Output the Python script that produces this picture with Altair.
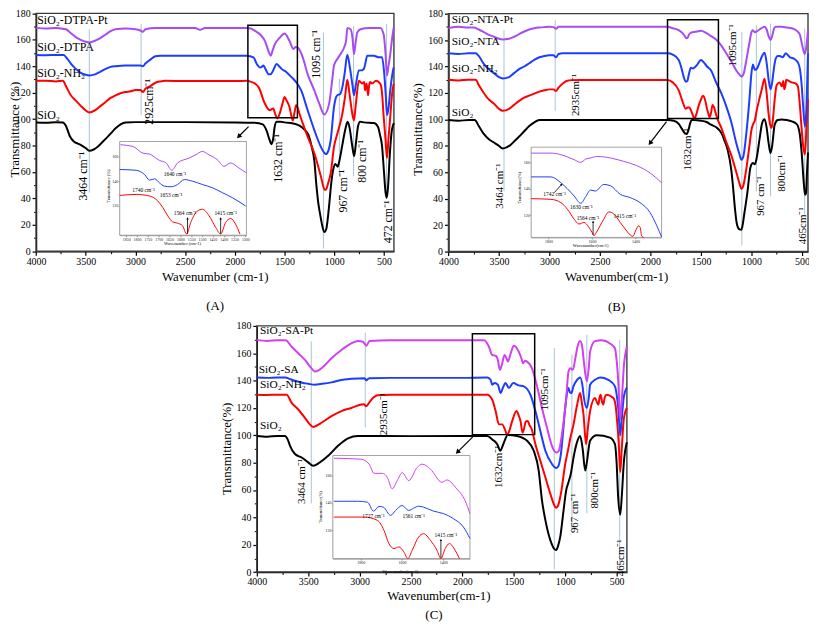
import altair as alt
import pandas as pd

FONT = "Liberation Serif, Times New Roman, serif"
W, H = 808, 616
SX, SY = 4, 3


def vx(p):
    return round(p - SX, 1)


def vy(p):
    return round(p - SY, 1)


# ---------------- colours ----------------
BLACK, RED, BLUE, VIOLET, MAGENTA = "#000000", "#ff0000", "#1e3cff", "#a64cf2", "#d23ff0"
GUIDE = "#aac4d6"

# ---------------- panel A spectra (wavenumber, transmittance) ----------------
A_SIO2 = [(4000,97.5),(3900,97.3),(3800,97.6),(3730,97.5),(3700,95),(3660,87),(3620,83),(3580,81.5),(3540,80),(3500,78),(3464,76),(3420,77),(3380,79),(3340,82),(3300,85),(3250,89),(3200,93),(3150,96),(3100,97.5),(3000,97.7),(2500,97.7),(2000,97.5),(1800,97.2),(1720,96),(1680,91),(1650,84),(1632,81),(1615,85),(1600,94),(1580,98),(1540,98),(1500,97.5),(1400,96.5),(1350,95),(1300,92),(1260,88),(1230,80),(1200,68),(1180,50),(1160,36),(1140,27),(1120,19),(1100,14.5),(1080,17),(1065,25),(1050,36),(1030,52),(1010,62),(990,66),(967,64),(950,68),(920,80),(890,92),(866,98),(845,93),(820,80),(800,72),(785,80),(760,95),(740,98),(700,97.5),(600,97),(560,94),(540,88),(520,80),(500,60),(485,45),(472,40.5),(460,48),(440,75),(420,92),(400,97)]
A_NH2 = [(4000,129),(3900,129),(3800,128.5),(3730,129),(3700,125),(3650,118),(3600,114),(3550,110),(3500,106.5),(3464,105),(3400,107),(3350,110),(3300,113),(3250,116),(3200,118),(3150,119.5),(3100,120.5),(3050,121),(3000,122),(2950,122),(2925,120.5),(2900,123),(2850,125),(2800,127.5),(2750,128.5),(2700,129),(2500,128.8),(2000,128.8),(1880,129),(1850,128.5),(1800,127),(1760,124),(1700,112),(1650,106.7),(1615,108),(1590,103),(1572,100.5),(1550,104),(1520,112),(1500,116.7),(1480,114),(1450,109),(1430,102),(1417,99),(1400,105),(1384,110.5),(1365,108),(1350,104),(1317,96.7),(1268,86.7),(1200,74),(1135,56.7),(1100,47),(1085,46.5),(1060,52),(1036,59),(1003,79),(969,89),(940,97),(919,104),(890,118),(869,129.7),(845,118),(819,104),(802,99),(785,110),(752,129),(720,127),(700,128),(690,121.7),(675,127),(660,118),(650,125),(640,128),(620,127),(580,129),(537,126.7),(520,120),(503,101.7),(485,85),(470,70.5),(455,85),(437,101.7),(420,118),(403,126.7)]
A_DTPA = [(4000,148.5),(3900,148.3),(3800,148.5),(3720,148.5),(3700,147),(3650,142),(3600,138),(3550,135),(3500,133.5),(3464,133),(3400,134),(3350,136),(3300,138),(3250,139.5),(3200,140),(3100,140.5),(3000,140.5),(2950,140.5),(2925,140),(2900,142),(2850,145),(2800,147.5),(2750,148),(2500,148),(2000,148),(1880,148),(1813,146.7),(1780,141.7),(1745,139),(1730,139.5),(1713,140.5),(1697,138.7),(1680,136),(1663,134),(1640,134),(1620,136),(1580,141.7),(1555,140),(1530,138),(1480,135.5),(1430,131.7),(1384,128),(1333,121.7),(1268,106.7),(1201,91.7),(1135,79),(1100,74.5),(1085,73.5),(1060,76),(1036,84),(1003,109),(985,116),(969,118),(940,119),(919,124),(895,135),(869,148.7),(845,140),(819,126.7),(802,118),(785,125),(752,136.7),(720,137),(702,138),(685,143),(669,148),(603,148),(553,146.7),(520,146.7),(497,134),(480,115),(470,103),(455,108),(437,121.7),(420,132),(403,139)]
A_PT = [(4000,169),(3900,168.5),(3800,169),(3750,168.5),(3700,168),(3650,165),(3600,162),(3550,160),(3500,158.5),(3464,158),(3400,159.5),(3350,161.5),(3300,164),(3250,166.5),(3200,168),(3100,168.5),(3000,168),(2950,167),(2925,166),(2900,168),(2800,169),(2400,169),(2350,167.5),(2300,169),(2000,169),(1880,169),(1840,168.5),(1797,166.7),(1746,164),(1697,159),(1663,151.7),(1640,148),(1620,152),(1597,156.7),(1547,161.7),(1500,164.7),(1450,159),(1410,153),(1390,154.5),(1367,154),(1317,146.7),(1268,134),(1201,121.7),(1151,111.7),(1101,103.5),(1052,111.7),(1020,130),(1003,140.5),(969,145.5),(930,150),(902,154),(880,160),(869,169),(836,168),(815,160),(802,149),(785,158),(769,165.5),(736,168),(650,169),(560,169),(537,169),(503,164),(485,150),(470,133),(455,140),(437,149),(420,160),(403,169)]

# ---------------- panel B spectra ----------------
B_SIO2 = [(4000,99.5),(3900,99),(3800,99.5),(3740,99.5),(3700,95),(3650,89),(3600,85),(3550,82.5),(3500,80),(3464,78),(3420,79),(3380,81),(3340,84),(3300,87),(3250,91),(3200,95),(3150,97.8),(3100,99.5),(3050,99.6),(3000,99.6),(2500,99.5),(2000,99.6),(1830,99.6),(1770,99),(1720,96.6),(1690,93),(1665,90),(1640,89),(1620,93),(1607,97),(1590,99.5),(1575,99.6),(1500,99),(1445,98),(1400,96),(1348,94),(1300,90),(1267,84),(1235,76.7),(1200,62),(1186,52),(1160,30),(1147,22),(1122,17),(1100,16.5),(1090,19),(1070,29),(1041,44.3),(1009,64),(985,67),(967,66),(950,70),(920,85),(895,97),(870,100.2),(850,94),(830,82),(811,74.5),(795,80),(770,96),(740,99.5),(700,100),(650,99.5),(600,98.5),(560,97),(540,95),(520,88),(500,72),(485,55),(470,43),(460,44),(450,60),(440,75)]
B_NH2 = [(4000,130),(3900,129.5),(3800,130),(3730,130),(3700,126),(3650,120),(3600,115),(3550,112),(3500,108),(3464,106.5),(3400,108),(3350,111),(3300,114),(3250,116.5),(3200,118),(3150,119.5),(3100,121),(3050,122),(3000,122.7),(2960,122.7),(2935,121.5),(2910,124),(2870,127),(2830,129),(2780,129.7),(2700,129.8),(2500,129.8),(2000,129.8),(1830,129.8),(1780,128),(1720,122),(1680,113),(1650,108),(1632,109),(1615,109),(1600,107),(1580,103),(1564,100.5),(1545,104),(1520,111),(1500,115),(1480,117.8),(1460,115),(1440,108),(1425,104),(1415,101.6),(1400,105),(1385,110.8),(1370,109),(1355,105),(1340,101),(1300,94),(1250,83),(1200,73),(1150,60),(1120,52),(1100,47.5),(1080,50),(1050,63),(1020,80),(1000,92),(980,97),(967,99),(950,106),(920,116),(900,122),(870,130.7),(850,120),(830,104),(815,96),(800,93.6),(785,102),(770,115),(750,126),(720,128),(700,125),(685,129),(675,122.7),(665,125),(655,130),(640,129.5),(600,128),(560,127),(540,125),(520,110),(500,90),(485,78),(470,73.5),(455,95),(440,115)]
B_NTA = [(4000,150),(3900,149.5),(3800,150),(3730,150),(3700,148),(3650,142),(3600,138),(3550,135),(3500,132),(3464,131),(3400,132),(3350,135),(3300,138),(3250,140),(3200,142.5),(3150,145),(3100,147),(3050,148),(3000,148.5),(2960,148.5),(2935,147),(2910,149.5),(2870,150),(2800,150),(2500,150),(2000,150),(1830,150),(1780,149),(1720,145),(1690,138),(1670,132),(1650,128.5),(1635,129),(1620,134),(1600,139),(1580,138.5),(1560,139.5),(1540,141),(1500,145),(1470,143),(1440,140),(1400,137),(1350,128),(1300,120),(1250,110),(1200,98),(1150,82),(1120,74),(1100,69.5),(1080,72),(1050,90),(1020,115),(1000,135),(985,141.5),(967,137.5),(950,138),(920,143),(900,147),(870,150.5),(850,143),(830,130),(811,122.7),(795,128),(775,140),(760,146),(740,148),(720,148),(690,147),(660,150),(620,147),(580,146),(540,143),(520,138),(505,128),(490,112),(470,94.5),(455,110),(440,150)]
B_PT = [(4000,169),(3900,170),(3800,169.5),(3750,169.5),(3700,168),(3650,166),(3600,164),(3550,162.5),(3500,161),(3464,160.5),(3400,161),(3350,162.5),(3300,164.5),(3250,166.5),(3200,168),(3150,169),(3100,169.5),(3050,169.8),(3000,170),(2960,169.8),(2935,168.5),(2910,170),(2800,170),(2500,170),(2000,170),(1830,170),(1780,169),(1720,167.5),(1680,165),(1660,163),(1645,161.5),(1630,162),(1620,164),(1600,165.5),(1580,166),(1540,166.5),(1500,167),(1450,165.5),(1400,163),(1350,160.5),(1300,156),(1250,150),(1200,144),(1150,137),(1120,134),(1100,132.5),(1080,134),(1050,145),(1020,158),(1000,166),(990,167.5),(967,166),(940,167),(900,169),(870,170),(850,168),(830,163),(811,160),(795,163),(775,169),(760,170),(700,170),(650,169.5),(600,169),(550,167),(520,164),(500,157),(485,152),(470,149.5),(455,156),(440,168)]

# ---------------- panel C spectra ----------------
C_SIO2 = [(4000,99.5),(3900,99),(3800,99.5),(3726,99.5),(3700,97),(3677,92.3),(3629,86.3),(3564,83.8),(3500,80.2),(3452,77.8),(3387,80.2),(3306,85),(3210,92.3),(3113,97.8),(3016,99.5),(2500,99.4),(2000,99.5),(1758,99.5),(1710,97),(1661,93.5),(1632,88.7),(1610,92),(1590,96),(1558,100.3),(1468,99.5),(1371,96),(1306,88.7),(1258,74.2),(1226,52.4),(1193,38),(1145,23.4),(1100,16.5),(1087,16.2),(1070,19),(1048,25.9),(1016,45.2),(990,60),(968,65.7),(945,72),(919,83.8),(885,95),(855,99.5),(830,90),(806,74.2),(790,80),(758,96),(693,100),(564,98.3),(516,93.5),(500,80),(485,55),(465,42),(450,55),(430,80),(400,95)]
C_NH2 = [(4000,129.7),(3900,129.5),(3800,129.7),(3710,129.7),(3661,123.7),(3597,118.9),(3532,112.8),(3490,108.5),(3452,106),(3420,107),(3371,109.2),(3274,114),(3177,117.7),(3081,120),(2984,122.5),(2960,122.7),(2935,121.3),(2910,123.5),(2887,126),(2850,128.5),(2822,129.3),(2700,129.7),(2500,129.7),(2000,129.7),(1758,129.7),(1710,126),(1677,117.7),(1645,108),(1613,108),(1581,103.2),(1564,100.3),(1545,103),(1516,110.4),(1474,117.7),(1450,114),(1435,110.4),(1415,102),(1400,105),(1385,110),(1365,110.4),(1345,107),(1332,105.6),(1290,93.5),(1242,81.4),(1193,69.3),(1145,57.3),(1100,48),(1087,47.1),(1070,48.5),(1042,57.3),(1000,79),(968,91),(950,98),(919,108),(885,122),(855,131),(835,122),(822,115.2),(797,93.5),(780,105),(758,117.7),(710,127.3),(690,124),(677,122.5),(665,128),(655,129.7),(640,124),(629,122.5),(615,128),(597,129.7),(532,127.3),(510,122),(495,110),(480,95),(465,73),(450,90),(430,112),(400,120)]
C_SA = [(4000,142.3),(3900,142),(3800,142.3),(3720,142.3),(3690,141.5),(3629,139.9),(3560,138.5),(3500,137.7),(3436,137),(3380,137.5),(3274,138.7),(3180,140.5),(3081,141.3),(2952,141.8),(2935,140.1),(2915,141.5),(2903,141.8),(2700,142),(2000,142),(1758,142.3),(1726,140.6),(1710,137),(1687,138.2),(1655,137),(1629,131),(1605,135),(1581,138.2),(1548,134.6),(1506,138.2),(1452,136.5),(1403,135.8),(1339,129.7),(1290,117.7),(1242,103.2),(1193,88.7),(1129,79),(1100,76.5),(1087,76.1),(1070,77),(1042,86.3),(1000,120.1),(980,132),(968,134.6),(955,131.5),(940,131),(919,136),(890,140),(855,142.3),(830,135),(822,129.7),(790,120),(770,128),(758,137),(710,140.6),(661,142.3),(581,140.6),(516,135.8),(500,130),(484,120),(465,100),(450,112),(430,128),(400,135)]
C_PT = [(4000,169.6),(3900,169),(3800,169.5),(3720,169.6),(3661,164.8),(3597,160),(3532,155.1),(3468,149),(3436,146.7),(3400,147.5),(3371,149),(3274,156.3),(3177,162.4),(3081,167.2),(3016,168.9),(2968,168.4),(2935,165.5),(2903,168.9),(2700,169.5),(2000,169.5),(1790,169.5),(1742,164.8),(1710,158.7),(1677,158.2),(1655,155),(1636,147.9),(1615,152),(1590,158.7),(1570,156),(1558,153.9),(1530,160),(1500,165.5),(1452,161.2),(1425,156),(1410,152.7),(1390,154.5),(1371,153.9),(1323,149),(1274,135.8),(1226,120),(1177,105.6),(1129,92.3),(1100,88),(1081,87.5),(1060,89),(1032,100.7),(990,127.3),(968,146.7),(950,149),(926,147.9),(900,157),(880,165),(855,168.9),(835,165),(822,156.3),(790,139.4),(770,150),(758,161.2),(710,168.9),(645,169.6),(564,167.2),(516,163.6),(500,155),(484,139.4),(465,112),(450,125),(430,150),(400,165)]

# ---------------- inset spectra ----------------
AI_PT = [(1877,169.4),(1819,168),(1773,162.6),(1743,161.9),(1697,156.8),(1666,154.7),(1639,148.8),(1613,154.7),(1559,158.7),(1529,161.3),(1498,164),(1468,161.3),(1429,157.3),(1399,152),(1368,154.7),(1330,150.7),(1295,146.7)]
AI_DTPA = [(1880,149.4),(1804,148.8),(1765,145.3),(1742,140.8),(1719,141.9),(1697,138.7),(1674,136),(1643,135.5),(1613,137.3),(1582,141.3),(1544,140),(1498,137.3),(1452,134.7),(1406,130.7),(1360,126.7),(1299,120)]
AI_NH2 = [(1880,128.5),(1804,129.3),(1742,128),(1704,124),(1681,118.7),(1658,112),(1636,107.2),(1613,106.1),(1590,104),(1571,97.4),(1552,106.7),(1521,116),(1498,117.3),(1467,112),(1437,102.7),(1414,97.4),(1391,106.7),(1368,109.9),(1345,105.3),(1325,97.4)]
BI_PT = [(1880,167),(1789,167),(1743,165.8),(1682,162),(1652,160),(1629,162.5),(1607,163.3),(1576,164.5),(1515,163.3),(1455,160.8),(1394,157.5),(1333,152),(1280,144.5)]
BI_NTA = [(1880,149),(1789,149),(1743,144.5),(1713,140),(1682,134.5),(1652,129),(1629,134),(1607,139),(1584,138.3),(1546,143.3),(1515,142.3),(1470,135.8),(1424,133.3),(1379,129.5),(1333,122),(1302,112),(1280,103.5)]
BI_NH2 = [(1880,132.5),(1789,132),(1743,129.5),(1713,124.5),(1682,117),(1660,113.3),(1637,114.5),(1614,110.8),(1600,107),(1591,104.5),(1580,107),(1546,117),(1523,122.5),(1500,121),(1470,114.5),(1440,108),(1424,105),(1412,104),(1400,108),(1386,112),(1379,111),(1371,104),(1362,100)]
CI_PT = [(1930,172.5),(1799,171.8),(1759,168.2),(1735,161.5),(1695,161.5),(1671,158.6),(1647,150.2),(1623,156.2),(1598,162),(1567,156.2),(1526,165.8),(1502,168.2),(1462,164.6),(1406,155),(1382,156.7),(1334,150.2),(1294,141.8),(1270,132.2)]
CI_SA = [(1930,141.2),(1815,141.2),(1767,140.5),(1738,134),(1711,137.4),(1690,136.9),(1655,130.9),(1631,134.5),(1599,138.1),(1567,134.5),(1543,136.2),(1519,137.6),(1495,136.9),(1447,134),(1398,132.2),(1350,128.5),(1302,122.5),(1270,114.1)]
CI_NH2 = [(1930,129.7),(1783,129.7),(1719,127.3),(1687,120),(1663,110.4),(1639,106.8),(1615,108),(1591,104.4),(1571,99.5),(1550,105.6),(1519,115.2),(1495,117.6),(1462,112.8),(1430,105.6),(1411,99.5),(1390,106.8),(1370,110.4),(1342,105.6),(1321,99.5)]

# ---------------- annotations (data coordinates) ----------------
A_VLINES = [(3464,168,44.3),(2943,171.8,103),(1109,165.5,2),(949,130.5,56.8),(806,170.5,56.8),(474,172,39.5)]
B_VLINES = [(3450,167.5,45.6),(2943,175,106.5),(1095,166.3,4.5),(951,171.3,45.6),(811,172.5,41.8),(473,168.8,28.1)]
C_VLINES = [(3470,168.6,50.2),(2945,175,105.8),(1106,163.8,1.9),(935,159,30.9),(790,173.5,43),(470,170,3)]

A_PEAKS = [(3524,56.8,"3464 cm⁻¹"),(2859,113,"2925cm⁻¹"),(1570,70.3,"1632 cm⁻¹"),(1182,149,"1095 cm⁻¹"),(915,45.5,"967 cm⁻¹"),(716,68,"800 cm⁻¹"),(461,22.3,"472 cm⁻¹")]
B_PEAKS = [(3493,49.5,"3464 cm⁻¹"),(2740,118.5,"2935cm⁻¹"),(1628,77.3,"1632cm⁻¹"),(1186,156,"1095cm⁻¹"),(909,42,"967 cm⁻¹"),(696,59.3,"800cm⁻¹"),(485,19.5,"465cm⁻¹")]
C_PEAKS = [(3565,66.2,"3464 cm⁻¹"),(2758,115.5,"2935cm⁻¹"),(1645,77,"1632cm⁻¹"),(1194,133.6,"1095cm⁻¹"),(903,43,"967 cm⁻¹"),(710,59.9,"800cm⁻¹"),(458,10.4,"465cm⁻¹")]

A_NAMES = [(3988,174.8,"SiO₂-DTPA-Pt"),(3988,154.8,"SiO₂-DTPA"),(3988,134.8,"SiO₂-NH₂"),(3988,103,"SiO₂")]
B_NAMES = [(3967,175,"SiO₂-NTA-Pt"),(3967,158.8,"SiO₂-NTA"),(3967,138.2,"SiO₂-NH₂"),(3967,105,"SiO₂")]
C_NAMES = [(3970,176.4,"SiO₂-SA-Pt"),(3981,148.1,"SiO₂-SA"),(3970,136.7,"SiO₂-NH₂"),(3970,107,"SiO₂")]

A_BOX = [(1869,1371,101,171)]
B_BOX = [(1831,1327,100.7,175.3)]
C_BOX = [(1903,1297,100.5,174.2)]
A_ARROW = [(1862,94.3,1962,86.8,225)]
B_ARROW = [(1841,98.3,2004,82,217)]
C_ARROW = [(1887,99.8,2048,87.7,225)]

A_TITLES = [(2198,-19.7,"Wavenumber (cm-1)"),(2198,-41.5,"(A)")]
B_TITLES = [(2335,-19.5,"Wavenumber(cm-1)"),(2335,-42,"(B)")]
C_TITLES = [(2229,-17.4,"Wavenumber(cm-1)"),(2277,-31.7,"(C)")]
A_YTITLE = [(4212,92,"Transmittance (%)")]
B_YTITLE = [(4297,92.3,"Transmittance(%)")]
C_YTITLE = [(4290,90.1,"Transmittance(%)")]

AI_TEXT = [(1625,145.4,"1640 cm⁻¹"),(1770,132.8,"1740 cm⁻¹"),(1643,128.6,"1653 cm⁻¹"),(1579,114.6,"1564 cm⁻¹"),(1391,114.6,"1415 cm⁻¹")]
BI_TEXT = [(1772,135.8,"1742 cm⁻¹"),(1649,126.3,"1630 cm⁻¹"),(1619,117.7,"1564 cm⁻¹"),(1449,119.5,"1415 cm⁻¹")]
CI_TEXT = [(1738,130.8,"1727 cm⁻¹"),(1543,130.8,"1561 cm⁻¹"),(1387,116.4,"1415 cm⁻¹")]
AI_ARROWS = [(1567,97.5,1567,110,0),(1414,97.5,1414,110,0)]
BI_ARROWS = [(1595,105,1595,115,0),(1774,137,1740,143.3,41)]
CI_ARROWS = [(1411,100,1411,113,0)]
AI_TITLES = [(1590,89.6,"Wavenumber (cm-1)")]
BI_TITLES = [(1606,97,"Wavenumber(cm-1)")]
CI_TITLES = [(1607,89.4,"Wavenumber(cm-1)")]
AI_YTITLE = [(1930,136,"Transmittance (%)")]
BI_YTITLE = [(1929,140.8,"Transmittance(%)")]
CI_YTITLE = [(1991,136.9,"Transmittance(%)")]

X_MAJOR = [4000, 3500, 3000, 2500, 2000, 1500, 1000, 500]
X_MINOR = [3750, 3250, 2750, 2250, 1750, 1250, 750]
Y_MAJOR = [0, 20, 40, 60, 80, 100, 120, 140, 160, 180]
Y_MINOR = [10, 30, 50, 70, 90, 110, 130, 150, 170]
INSET_Y = [120, 140, 160]
AI_XTICKS = [1850, 1800, 1750, 1700, 1650, 1600, 1550, 1500, 1450, 1400, 1350, 1300]
BI_XTICKS = [1800, 1600, 1400]
CI_XTICKS = [1800, 1600, 1400]

# ---------------- layout: plot areas in page pixels ----------------
GEOM = {
    "A": {"xd": [4000, 400], "yd": [0, 180], "xr": [vx(32.3), vx(393.3)], "yr": [vy(245.7), vy(5.7)]},
    "B": {"xd": [4000, 440], "yd": [0, 180], "xr": [vx(448.3), vx(811)], "yr": [vy(246), vy(6)]},
    "C": {"xd": [4000, 400], "yd": [0, 180], "xr": [vx(255), vx(628.3)], "yr": [vy(569.3), vy(321)]},
    "Ai": {"xd": [1880, 1295], "yd": [96.4, 172], "xr": [vx(116.7), vx(244.5)], "yr": [vy(229.5), vy(135)]},
    "Bi": {"xd": [1880, 1280], "yd": [103.2, 171.5], "xr": [vx(531.7), vx(663.3)], "yr": [vy(231.7), vy(140.7)]},
    "Ci": {"xd": [1935, 1270], "yd": [99.5, 174.5], "xr": [vx(331.7), vx(470)], "yr": [vy(555.7), vy(451.7)]},
}


def sc(g, key, clamp=False):
    kw = dict(domain=g[key + "d"], range=g[key + "r"], nice=False, zero=False)
    if clamp:
        kw["clamp"] = True
    return alt.Scale(**kw)


def enc(g, xf, yf, xaxis=None, yaxis=None, clamp=False):
    return dict(
        x=alt.X(xf, type="quantitative", scale=sc(g, "x"), axis=xaxis),
        y=alt.Y(yf, type="quantitative", scale=sc(g, "y", clamp), axis=yaxis),
    )


def curves_df(series):
    rows = []
    for name, pts, col in series:
        for x, y in pts:
            rows.append({"x": x, "y": y, "s": name, "c": col})
    return pd.DataFrame(rows)


def text_layer(g, rows, size, align="center", angle=0, color="black"):
    kw = dict(font=FONT, fontSize=size, align=align, baseline="middle", color=color)
    if angle:
        kw["angle"] = angle
    df = pd.DataFrame(rows, columns=["x", "y", "t"])
    return alt.Chart(df).mark_text(**kw).encode(**enc(g, "x", "y"), text="t:N")


def arrow_layers(g, rows, width, size):
    df = pd.DataFrame(rows, columns=["x1", "y1", "x2", "y2", "ang"])
    line = alt.Chart(df).mark_rule(color="black", strokeWidth=width).encode(
        **enc(g, "x1", "y1"), x2=alt.X2("x2"), y2=alt.Y2("y2"))
    head = alt.Chart(df).mark_point(shape="triangle-up", filled=True, color="black", size=size, opacity=1).encode(
        **enc(g, "x2", "y2"), angle=alt.Angle("ang:Q", scale=None))
    return [line, head]


def main_panel(key, series, vlines, names, peaks, box, arrow, titles, ytitle, name_size, peak_size):
    g = GEOM[key]
    layers = []
    minor = dict(grid=False, title=None, labels=False, domain=False, tickColor="black", tickWidth=1, tickSize=2.5)
    mxa = alt.Axis(orient="bottom", offset=g["yr"][0] - H, values=X_MINOR, **minor)
    mya = alt.Axis(orient="left", offset=-g["xr"][0], values=Y_MINOR, **minor)
    frame = pd.DataFrame({"x": [g["xd"][0]], "x2": [g["xd"][1]], "y": [g["yd"][0]], "y2": [g["yd"][1]]})
    layers.append(alt.Chart(frame).mark_rect(fillOpacity=0, stroke="#3c3c3c", strokeWidth=1.4).encode(
        **enc(g, "x", "y", mxa, mya), x2=alt.X2("x2"), y2=alt.Y2("y2")))
    vl = pd.DataFrame(vlines, columns=["x", "y", "y2"])
    layers.append(alt.Chart(vl).mark_rule(color=GUIDE, strokeWidth=1).encode(**enc(g, "x", "y"), y2=alt.Y2("y2")))
    common = dict(grid=False, title=None, tickColor="black", domainColor="black", domainWidth=1.4, tickWidth=1.2,
                  labelFont=FONT, labelFontSize=10, labelColor="black", labelFlush=False, labelOverlap=False, format="d")
    xa = alt.Axis(orient="bottom", offset=g["yr"][0] - H, values=X_MAJOR, tickSize=4, labelPadding=1, **common)
    ya = alt.Axis(orient="left", offset=-g["xr"][0], values=Y_MAJOR, tickSize=4, labelPadding=2, **common)
    layers.append(alt.Chart(curves_df(series)).mark_line(strokeWidth=2, interpolate="monotone").encode(
        **enc(g, "x", "y", xa, ya), detail="s:N", color=alt.Color("c:N", scale=None)))
    layers.append(text_layer(g, names, name_size, align="left"))
    layers.append(text_layer(g, peaks, peak_size, angle=270))
    bdf = pd.DataFrame(box, columns=["x", "x2", "y", "y2"])
    layers.append(alt.Chart(bdf).mark_rect(fillOpacity=0, stroke="black", strokeWidth=1.5).encode(
        **enc(g, "x", "y"), x2=alt.X2("x2"), y2=alt.Y2("y2")))
    layers += arrow_layers(g, arrow, 1.2, 30)
    layers.append(text_layer(g, titles, 13))
    layers.append(text_layer(g, ytitle, 13, angle=270))
    return layers


def inset_panel(key, series, texts, arrows, xticks, xtitle, ytitle):
    g = GEOM[key]
    layers = []
    common = dict(grid=False, title=None, tickColor="#555555", domainColor="#777777", domainWidth=0.8, tickWidth=0.6,
                  tickSize=1.5, labelFont=FONT, labelFontSize=4, labelColor="#222222", labelPadding=0.5,
                  labelFlush=False, labelOverlap=False, format="d")
    xa = alt.Axis(orient="bottom", offset=g["yr"][0] - H, values=xticks, **common)
    ya = alt.Axis(orient="left", offset=-g["xr"][0], values=INSET_Y, **common)
    frame = pd.DataFrame({"x": [g["xd"][0]], "x2": [g["xd"][1]], "y": [g["yd"][0]], "y2": [g["yd"][1]]})
    layers.append(alt.Chart(frame).mark_rect(fill="white", stroke="#8c8c8c", strokeWidth=0.8).encode(
        **enc(g, "x", "y", xa, ya), x2=alt.X2("x2"), y2=alt.Y2("y2")))
    layers.append(alt.Chart(curves_df(series)).mark_line(strokeWidth=1.0, interpolate="monotone").encode(
        **enc(g, "x", "y", clamp=True), detail="s:N", color=alt.Color("c:N", scale=None)))
    layers.append(text_layer(g, texts, 5.5))
    layers += arrow_layers(g, arrows, 0.8, 6)
    layers.append(text_layer(g, xtitle, 4.5))
    layers.append(text_layer(g, ytitle, 4.5, angle=270))
    return layers


layers = []
layers += main_panel("A", [("SiO2", A_SIO2, BLACK), ("NH2", A_NH2, RED), ("DTPA", A_DTPA, BLUE), ("Pt", A_PT, VIOLET)],
                     A_VLINES, A_NAMES, A_PEAKS, A_BOX, A_ARROW, A_TITLES, A_YTITLE, 12, 12)
layers += main_panel("B", [("SiO2", B_SIO2, BLACK), ("NH2", B_NH2, RED), ("NTA", B_NTA, BLUE), ("Pt", B_PT, VIOLET)],
                     B_VLINES, B_NAMES, B_PEAKS, B_BOX, B_ARROW, B_TITLES, B_YTITLE, 11.5, 11)
layers += main_panel("C", [("SiO2", C_SIO2, BLACK), ("NH2", C_NH2, RED), ("SA", C_SA, BLUE), ("Pt", C_PT, MAGENTA)],
                     C_VLINES, C_NAMES, C_PEAKS, C_BOX, C_ARROW, C_TITLES, C_YTITLE, 11.5, 11)
layers += inset_panel("Ai", [("NH2", AI_NH2, RED), ("DTPA", AI_DTPA, BLUE), ("Pt", AI_PT, VIOLET)],
                      AI_TEXT, AI_ARROWS, AI_XTICKS, AI_TITLES, AI_YTITLE)
layers += inset_panel("Bi", [("NH2", BI_NH2, RED), ("NTA", BI_NTA, BLUE), ("Pt", BI_PT, VIOLET)],
                      BI_TEXT, BI_ARROWS, BI_XTICKS, BI_TITLES, BI_YTITLE)
layers += inset_panel("Ci", [("NH2", CI_NH2, RED), ("SA", CI_SA, BLUE), ("Pt", CI_PT, MAGENTA)],
                      CI_TEXT, CI_ARROWS, CI_XTICKS, CI_TITLES, CI_YTITLE)

chart = (
    alt.layer(*layers)
    .resolve_scale(x="independent", y="independent")
    .properties(width=W, height=H, padding=0, autosize=alt.AutoSizeParams(type="none"))
    .configure_view(strokeWidth=0)
)

chart.save("out.html", embed_options={"renderer": "svg", "actions": False})
